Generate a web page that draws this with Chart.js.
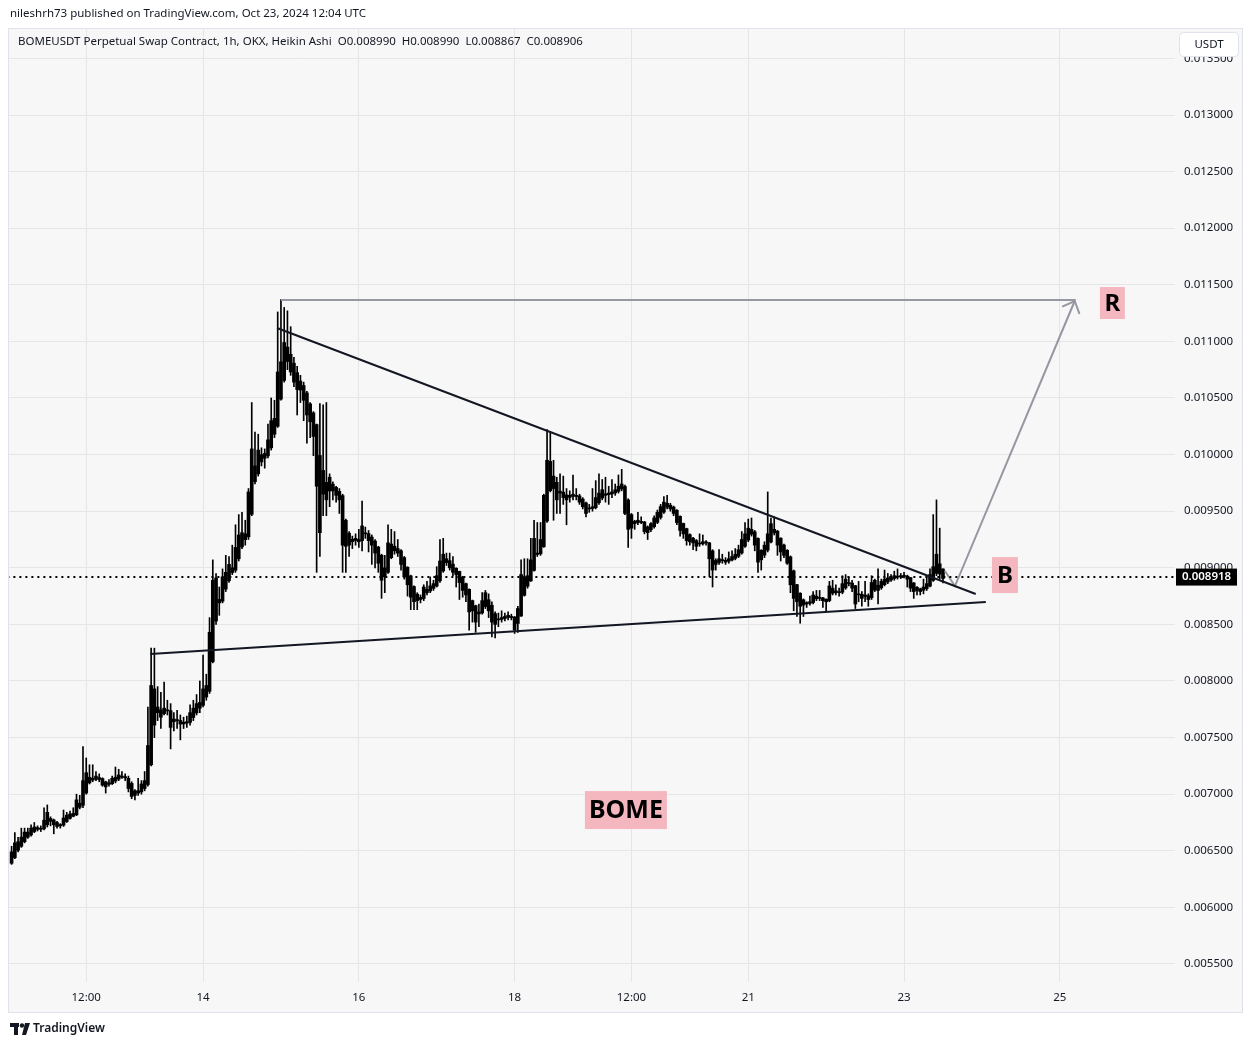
<!DOCTYPE html>
<html>
<head>
<meta charset="utf-8">
<title>BOMEUSDT Perpetual 1h</title>
<script src="https://cdn.jsdelivr.net/npm/chart.js@4.4.1/dist/chart.umd.min.js"></script>
<style>
html, body { margin: 0; padding: 0; background: #ffffff; }
#wrap { width: 1253px; height: 1047px; }
</style>
</head>
<body>
<div id="wrap"><canvas id="chart" width="1253" height="1047"></canvas></div>
<script>
// prices are stored in millionths of a USDT (8990 = 0.008990)
const PRICE_UNIT = 1e-6;
// hours relative to Oct 14 00:00 UTC, first bar is Oct 11 13:00
const FIRST_HOUR = -59;

const opens = [
  6390,6440,6505,6540,6580,6620,6640,6670,6690,6698,6694,6730,6785,6772,6750,6732,
  6726,6758,6786,6805,6818,6884,6902,7010,7100,7125,7132,7146,7138,7109,7087,7093,
  7116,7133,7150,7155,7140,7095,7030,7010,7020,7050,7085,7260,7610,7770,7745,7712,
  7736,7738,7664,7652,7651,7636,7628,7634,7677,7718,7759,7785,7858,7909,8170,8530,
  8720,8705,8812,8886,8958,8979,9080,9185,9248,9274,9472,9761,9830,9935,9968,9989,
  10060,10180,10250,10490,10655,10822,10886,10808,10724,10650,10610,10545,10448,10369,10265,9992,
  9651,9755,9678,9739,9710,9675,9638,9419,9305,9252,9241,9250,9240,9305,9302,9271,
  9236,9183,9111,9000,8960,9090,9150,9170,9150,9090,9005,8928,8834,8767,8738,8729,
  8780,8795,8818,8839,8885,8972,9046,9063,9032,8996,8968,8919,8860,8810,8710,8665,
  8592,8601,8656,8718,8669,8595,8548,8544,8552,8561,8570,8565,8508,8574,8757,8838,
  8884,8977,9118,9124,9187,9413,9681,9810,9755,9677,9668,9644,9622,9631,9640,9635,
  9607,9573,9526,9523,9531,9575,9617,9653,9646,9653,9661,9675,9697,9718,9599,9470,
  9410,9400,9410,9405,9362,9336,9363,9401,9445,9492,9536,9553,9536,9508,9454,9392,
  9346,9293,9261,9240,9215,9212,9221,9220,9150,9065,9047,9063,9066,9058,9069,9084,
  9102,9131,9190,9245,9297,9318,9259,9154,9112,9156,9228,9309,9324,9262,9201,9155,
  9097,8973,8851,8775,8717,8693,8686,8693,8726,8738,8734,8722,8711,8775,8797,8788,
  8784,8822,8861,8865,8842,8761,8765,8747,8753,8736,8803,8846,8823,8851,8875,8892,
  8906,8918,8919,8924,8927,8913,8866,8828,8814,8802,8816,8838,8889,8950,9035,8990
];
const closes = [
  6490,6570,6580,6620,6665,6665,6700,6710,6705,6690,6770,6840,6760,6730,6715,6720,
  6790,6815,6825,6830,6950,6920,7120,7190,7150,7140,7160,7130,7080,7065,7100,7140,
  7150,7170,7160,7145,7050,6980,6990,7030,7090,7120,7430,7960,7930,7720,7680,7760,
  7740,7590,7640,7650,7620,7620,7640,7720,7760,7800,7810,7930,7960,8430,8890,8910,
  8690,8920,8960,9030,9000,9180,9290,9310,9300,9670,10050,9900,10040,10000,10010,10130,
  10300,10320,10730,10820,10990,10950,10730,10640,10575,10570,10480,10350,10290,10160,9720,9310,
  9860,9600,9800,9680,9640,9600,9200,9190,9200,9230,9260,9230,9370,9300,9240,9200,
  9130,9040,8890,8920,9220,9210,9190,9130,9030,8920,8850,8740,8700,8710,8720,8830,
  8810,8840,8860,8930,9060,9120,9080,9000,8960,8940,8870,8800,8760,8610,8620,8520,
  8610,8710,8780,8620,8520,8500,8540,8560,8570,8580,8560,8450,8640,8940,8920,8930,
  9070,9260,9130,9250,9640,9950,9940,9700,9600,9660,9620,9600,9640,9650,9630,9580,
  9540,9480,9520,9540,9620,9660,9690,9640,9660,9670,9690,9720,9740,9480,9340,9350,
  9390,9420,9400,9320,9310,9390,9440,9490,9540,9580,9570,9520,9480,9400,9330,9300,
  9240,9230,9220,9190,9210,9230,9220,9080,8980,9030,9080,9070,9050,9080,9100,9120,
  9160,9250,9300,9350,9340,9200,9050,9070,9200,9300,9390,9340,9200,9140,9110,9040,
  8850,8730,8700,8660,8670,8680,8700,8760,8750,8730,8710,8700,8840,8820,8780,8780,
  8860,8900,8870,8820,8680,8770,8730,8760,8720,8870,8890,8800,8880,8900,8910,8920,
  8930,8920,8930,8930,8900,8820,8790,8800,8790,8830,8860,8940,9010,9120,8945,8906
];
const highs = [
  6540,6660,6620,6700,6700,6700,6730,6750,6720,6720,6880,6905,6800,6780,6760,6740,
  6860,6840,6850,6880,7000,6990,7420,7320,7260,7260,7200,7180,7145,7115,7130,7160,
  7240,7220,7200,7180,7160,7110,7040,7140,7120,7200,7770,8290,8290,7950,7900,7990,
  7830,7800,7720,7740,7700,7680,7690,7790,7830,7880,8000,8230,8060,8560,9070,8950,
  8830,8990,9110,9100,9200,9380,9470,9490,9420,9700,10460,10200,10180,10060,10050,10270,
  10500,10480,11260,11370,11300,11270,11130,10860,10780,10700,10640,10560,10460,10380,10270,10450,
  10440,10460,9830,9760,9720,9700,9650,9430,9320,9280,9300,9340,9590,9360,9330,9290,
  9250,9190,9120,9110,9380,9340,9320,9250,9160,9100,9010,8935,8840,8780,8760,8850,
  8880,8920,8890,9010,9250,9260,9130,9130,9100,9000,8970,8925,8865,8815,8715,8670,
  8680,8780,8800,8770,8700,8610,8600,8620,8600,8610,8590,8570,8660,9070,9080,9080,
  9260,9420,9400,9400,9650,10220,10200,9950,9800,9830,9810,9700,9680,9820,9700,9650,
  9620,9580,9560,9700,9770,9830,9780,9800,9720,9780,9740,9820,9870,9730,9610,9480,
  9420,9490,9450,9410,9370,9400,9460,9510,9560,9630,9640,9570,9545,9515,9460,9395,
  9350,9300,9270,9250,9300,9290,9240,9225,9160,9080,9160,9120,9090,9140,9150,9170,
  9200,9320,9400,9430,9440,9330,9265,9160,9230,9670,9440,9450,9330,9265,9210,9160,
  9105,8980,8855,8780,8725,8700,8750,8790,8800,8800,8740,8725,8880,8890,8850,8820,
  8930,8940,8920,8890,8845,8880,8790,8880,8770,8930,8900,8990,8900,8980,8950,8940,
  8970,8990,8950,8960,8935,8915,8870,8835,8820,8900,8920,8990,9470,9600,9350,8990
];
const lows = [
  6380,6430,6490,6530,6570,6610,6630,6660,6675,6670,6685,6710,6720,6650,6700,6700,
  6715,6750,6780,6800,6810,6870,6880,7000,7090,7110,7120,7110,7070,7010,7070,7085,
  7100,7120,7140,7120,7020,6960,6950,6990,7000,7030,7070,7250,7500,7650,7580,7700,
  7700,7400,7560,7580,7480,7580,7590,7610,7650,7700,7720,7770,7830,7890,8160,8500,
  8580,8690,8790,8870,8940,8960,9060,9170,9200,9250,9460,9740,9810,9900,9880,9970,
  10040,10150,10240,10480,10640,10750,10700,10600,10350,10460,10300,10100,10150,9990,8960,9100,
  9460,9460,9540,9600,9580,9480,8960,8960,9100,9170,9200,9180,9150,9260,9140,9030,
  9000,8960,8730,8780,8950,9080,9120,9100,8980,8900,8750,8630,8630,8630,8690,8710,
  8760,8780,8800,8830,8870,8960,9020,8980,8930,8830,8720,8740,8700,8450,8520,8430,
  8480,8590,8640,8560,8390,8380,8480,8520,8530,8540,8540,8420,8430,8570,8750,8820,
  8880,8970,9100,9110,9180,9400,9670,9420,9480,9480,9560,9380,9580,9600,9600,9560,
  9520,9450,9490,9500,9520,9560,9600,9580,9560,9620,9640,9660,9680,9470,9180,9260,
  9340,9380,9390,9300,9250,9320,9350,9390,9430,9480,9520,9500,9460,9380,9280,9260,
  9200,9200,9160,9150,9190,9200,9200,8920,8830,8980,9030,9040,9030,9040,9060,9070,
  9090,9120,9180,9230,9280,9150,8960,8980,9090,9140,9220,9290,9110,9060,9090,9030,
  8780,8620,8570,8510,8570,8650,8670,8680,8710,8710,8650,8620,8700,8760,8760,8750,
  8770,8810,8840,8790,8640,8700,8660,8700,8660,8720,8790,8680,8810,8840,8860,8880,
  8890,8900,8905,8910,8830,8790,8730,8760,8760,8770,8800,8830,8880,8930,8900,8867
];

// drawings, in [hour, price] pairs
const fallingLine = [[22.8, 11118], [238.1, 8768]];
const risingLine = [[-16.3, 8238], [241.2, 8698]];
const resistanceLine = [[24, 11366], [268.9, 11366]];
const arrowPath = [[228.6, 8972], [231.7, 8839], [268.6, 11357]];
const lastPrice = 8918;

const tagLabels = [
  { text: 'R', hour: 280.2, price: 11339, w: 25, h: 32, size: 24 },
  { text: 'B', hour: 247.1, price: 8936, w: 26, h: 36, size: 24 },
  { text: 'BOME', hour: 130.3, price: 6860, w: 82, h: 38, size: 25 }
];

const timeTickHours = [-36, 0, 48, 96, 132, 168, 216, 264];
const timeTickLabels = ['12:00', '14', '16', '18', '12:00', '21', '23', '25'];

const headerText = 'nileshrh73 published on TradingView.com, Oct 23, 2024 12:04 UTC';
const legendText = 'BOMEUSDT Perpetual Swap Contract, 1h, OKX, Heikin Ashi  O0.008990  H0.008990  L0.008867  C0.008906';

const FONT = '"Noto Sans", "DejaVu Sans", sans-serif';
const TEXT = '#131722';
const GRID = '#e6e6e6';
const PANE_BG = '#f7f7f7';
const FRAME = '#e0e3eb';
const PINK = '#f5b7bf';
const GREY_LINE = '#9598a1';

const toPoint = p => ({ x: p[0], y: p[1] * PRICE_UNIT });

const bodyData = opens.map((o, i) => ({ x: FIRST_HOUR + i, y: [o * PRICE_UNIT, closes[i] * PRICE_UNIT] }));
const wickData = lows.map((l, i) => ({ x: FIRST_HOUR + i, y: [l * PRICE_UNIT, highs[i] * PRICE_UNIT] }));

function lineSet(points, color, width, dash) {
    return {
        type: 'line',
        data: points.map(toPoint),
        borderColor: color,
        borderWidth: width,
        borderDash: dash || [],
        pointRadius: 0,
        tension: 0,
        fill: false,
        order: 0
    };
}

const arrowHeadPlugin = {
    id: 'arrowHead',
    afterDatasetsDraw(chart) {
        const meta = chart.getDatasetMeta(6);
        const pts = meta.data;
        const a = pts[pts.length - 2];
        const b = pts[pts.length - 1];
        const ang = Math.atan2(b.y - a.y, b.x - a.x);
        const len = 13;
        const ctx = chart.ctx;
        ctx.save();
        ctx.strokeStyle = GREY_LINE;
        ctx.lineWidth = 2;
        ctx.lineCap = 'round';
        ctx.beginPath();
        ctx.moveTo(b.x - len * Math.cos(ang - 0.75), b.y - len * Math.sin(ang - 0.75));
        ctx.lineTo(b.x, b.y);
        ctx.lineTo(b.x - len * Math.cos(ang + 0.75), b.y - len * Math.sin(ang + 0.75));
        ctx.stroke();
        ctx.restore();
    }
};

const framePlugin = {
    id: 'frame',
    beforeDraw(chart) {
        const ctx = chart.ctx;
        ctx.save();
        ctx.fillStyle = '#ffffff';
        ctx.fillRect(0, 0, chart.width, chart.height);
        ctx.fillStyle = PANE_BG;
        ctx.fillRect(8, 28, 1235, 985);
        ctx.strokeStyle = FRAME;
        ctx.lineWidth = 1;
        ctx.strokeRect(8.5, 28.5, 1234, 984);
        ctx.fillStyle = TEXT;
        ctx.font = '11.5px ' + FONT;
        ctx.textBaseline = 'middle';
        ctx.fillText(headerText, 10, 14);
        ctx.restore();
    },
    afterDraw(chart) {
        const ctx = chart.ctx;
        const xs = chart.scales.x;
        const ys = chart.scales.y;
        ctx.save();

        // legend line
        ctx.fillStyle = TEXT;
        ctx.font = '11.5px ' + FONT;
        ctx.textBaseline = 'middle';
        ctx.textAlign = 'left';
        ctx.fillText(legendText, 18, 42);

        // currency box
        ctx.fillStyle = '#ffffff';
        ctx.strokeStyle = FRAME;
        ctx.beginPath();
        ctx.roundRect(1179.5, 32.5, 59, 24, 4);
        ctx.fill();
        ctx.stroke();
        ctx.fillStyle = TEXT;
        ctx.textAlign = 'center';
        ctx.fillText('USDT', 1209, 44.5);

        // last price tag
        const py = ys.getPixelForValue(lastPrice * PRICE_UNIT);
        ctx.fillStyle = '#000000';
        ctx.fillRect(1176, py - 8.5, 61, 17);
        ctx.fillStyle = '#ffffff';
        ctx.font = '600 11.5px ' + FONT;
        ctx.fillText((lastPrice * PRICE_UNIT).toFixed(6), 1206.5, py);

        // text labels
        tagLabels.forEach(t => {
            const cx = xs.getPixelForValue(t.hour);
            const cy = ys.getPixelForValue(t.price * PRICE_UNIT);
            ctx.fillStyle = PINK;
            ctx.fillRect(cx - t.w / 2, cy - t.h / 2, t.w, t.h);
            ctx.fillStyle = '#000000';
            ctx.font = 'bold ' + t.size + 'px ' + FONT;
            ctx.fillText(t.text, cx, cy + 1);
        });

        // footer logo
        ctx.fillStyle = TEXT;
        ctx.fillRect(10, 1023, 9, 4);
        ctx.fillRect(14, 1023, 4, 12);
        ctx.beginPath();
        ctx.arc(22, 1025.5, 2.2, 0, Math.PI * 2);
        ctx.fill();
        ctx.beginPath();
        ctx.moveTo(25, 1023);
        ctx.lineTo(30, 1023);
        ctx.lineTo(26, 1035);
        ctx.lineTo(22, 1035);
        ctx.closePath();
        ctx.fill();
        ctx.textAlign = 'left';
        ctx.font = '600 12px ' + FONT;
        ctx.fillText('TradingView', 33, 1029);
        ctx.restore();
    }
};

const ctx = document.getElementById('chart').getContext('2d');
const chart = new Chart(ctx, {
    type: 'bar',
    data: {
        datasets: [
            {
                type: 'bar', data: wickData, backgroundColor: '#000000',
                barThickness: 1, grouped: false, order: 2
            },
            {
                type: 'bar', data: bodyData, backgroundColor: '#000000',
                barThickness: 3, minBarLength: 1, grouped: false, order: 1
            },
            lineSet(fallingLine, '#131722', 2),
            lineSet(risingLine, '#131722', 2),
            lineSet([[FIRST_HOUR - 5, lastPrice], [310, lastPrice]], '#000000', 2, [2, 4]),
            lineSet(resistanceLine, GREY_LINE, 2),
            lineSet(arrowPath, GREY_LINE, 2)
        ]
    },
    options: {
        responsive: false,
        animation: false,
        layout: { padding: { top: 28, left: 9, right: 0, bottom: 0 } },
        plugins: {
            legend: { display: false },
            tooltip: { enabled: false }
        },
        scales: {
            x: {
                type: 'linear',
                min: -59.8,
                max: 299.5,
                offset: false,
                border: { display: false },
                grid: { color: GRID, drawTicks: false, offset: false },
                afterBuildTicks: s => { s.ticks = timeTickHours.map(v => ({ value: v })); },
                afterFit: s => { s.height = 65; },
                ticks: {
                    padding: 9,
                    color: TEXT,
                    maxRotation: 0,
                    autoSkip: false,
                    font: { family: FONT, size: 11.5 },
                    callback: v => timeTickLabels[timeTickHours.indexOf(v)]
                }
            },
            y: {
                type: 'linear',
                position: 'right',
                min: 0.0053409,
                max: 0.0137686,
                border: { display: false },
                grid: { color: GRID, drawTicks: false },
                afterFit: s => { s.width = 78; },
                ticks: {
                    stepSize: 0.0005,
                    includeBounds: false,
                    padding: 9,
                    color: TEXT,
                    font: { family: FONT, size: 11.5 },
                    callback: v => v.toFixed(6)
                }
            }
        }
    },
    plugins: [framePlugin, arrowHeadPlugin]
});
</script>
</body>
</html>
